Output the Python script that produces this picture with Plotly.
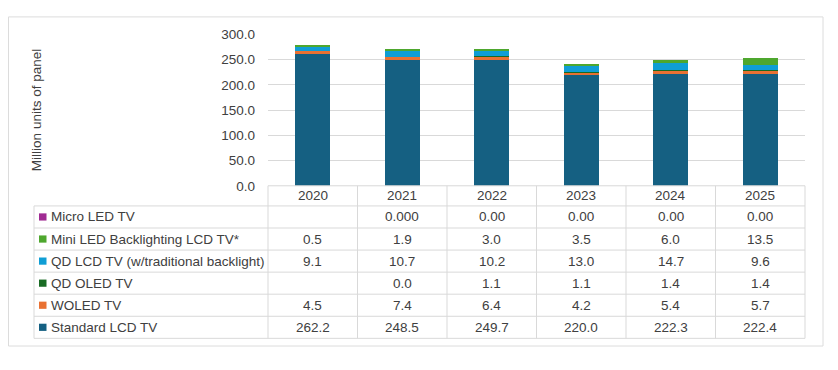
import plotly.graph_objects as go

W, H = 838, 370

years = ["2020", "2021", "2022", "2023", "2024", "2025"]

# Series (bottom of stack first)
standard_lcd = [262.2, 248.5, 249.7, 220.0, 222.3, 222.4]
woled = [4.5, 7.4, 6.4, 4.2, 5.4, 5.7]
qd_oled = [None, 0.0, 1.1, 1.1, 1.4, 1.4]
qd_lcd = [9.1, 10.7, 10.2, 13.0, 14.7, 9.6]
mini_led = [0.5, 1.9, 3.0, 3.5, 6.0, 13.5]
micro_led = [None, 0.000, 0.00, 0.00, 0.00, 0.00]

# Table text as displayed
micro_led_text = ["", "0.000", "0.00", "0.00", "0.00", "0.00"]
mini_led_text = ["0.5", "1.9", "3.0", "3.5", "6.0", "13.5"]
qd_lcd_text = ["9.1", "10.7", "10.2", "13.0", "14.7", "9.6"]
qd_oled_text = ["", "0.0", "1.1", "1.1", "1.4", "1.4"]
woled_text = ["4.5", "7.4", "6.4", "4.2", "5.4", "5.7"]
standard_lcd_text = ["262.2", "248.5", "249.7", "220.0", "222.3", "222.4"]

y_ticks = [0, 50, 100, 150, 200, 250, 300]
y_title = "Million units of panel"

series = [
    ("Standard LCD TV", standard_lcd, "#156082"),
    ("WOLED TV", woled, "#E97132"),
    ("QD OLED TV", qd_oled, "#196B24"),
    ("QD LCD TV (w/traditional backlight)", qd_lcd, "#0F9ED5"),
    ("Mini LED Backlighting LCD TV*", mini_led, "#4EA72E"),
    ("Micro LED TV", micro_led, "#A02B93"),
]

table_rows = [
    ("Micro LED TV", micro_led_text, "#A02B93"),
    ("Mini LED Backlighting LCD TV*", mini_led_text, "#4EA72E"),
    ("QD LCD TV (w/traditional backlight)", qd_lcd_text, "#0F9ED5"),
    ("QD OLED TV", qd_oled_text, "#196B24"),
    ("WOLED TV", woled_text, "#E97132"),
    ("Standard LCD TV", standard_lcd_text, "#156082"),
]

# the page body adds an 8px offset; positions below are in window pixels
OFF = 8

def px(x):
    return (x - OFF) / W

def py(y):
    return 1 - (y - OFF) / H

FONT = "Liberation Sans"
TXT = "#404040"
GRID = "#d9d9d9"

plot_l, plot_r = 268, 805
plot_t, plot_b = 28.3, 186

fig = go.Figure()
for name, vals, col in series:
    fig.add_trace(go.Bar(x=years, y=vals, name=name, marker=dict(color=col, line=dict(width=0)),
                         showlegend=False))

shapes = []
annotations = []

# outer border
shapes.append(dict(type="rect", xref="paper", yref="paper", x0=px(8.5), x1=px(823), y0=py(353), y1=py(10),
                   line=dict(color="#dcdcdc", width=1)))

# table grid
row_top = 207
row_h = 23
n_rows = len(table_rows)
table_bottom = row_top + n_rows * row_h
col_w = (plot_r - plot_l) / len(years)
shapes.append(dict(type="line", xref="paper", yref="paper", x0=px(plot_l), x1=px(plot_r), y0=py(plot_b), y1=py(plot_b),
                   line=dict(color=GRID, width=1)))
for i in range(n_rows + 1):
    yy = row_top + i * row_h
    shapes.append(dict(type="line", xref="paper", yref="paper", x0=px(34), x1=px(plot_r), y0=py(yy), y1=py(yy),
                       line=dict(color=GRID, width=1)))
shapes.append(dict(type="line", xref="paper", yref="paper", x0=px(34), x1=px(34), y0=py(row_top), y1=py(table_bottom),
                   line=dict(color=GRID, width=1)))
for j in range(len(years) + 1):
    xx = plot_l + j * col_w
    shapes.append(dict(type="line", xref="paper", yref="paper", x0=px(xx), x1=px(xx), y0=py(plot_b), y1=py(table_bottom),
                       line=dict(color=GRID, width=1)))

for k, yr in enumerate(years):
    annotations.append(dict(x=k, xref="x", y=py((plot_b + row_top) / 2), yref="paper", text=yr, showarrow=False,
                            xanchor="center", yanchor="middle", font=dict(family=FONT, size=13.5, color=TXT)))

for i, (label, texts, col) in enumerate(table_rows):
    cy = row_top + i * row_h + row_h / 2
    shapes.append(dict(type="rect", xref="paper", yref="paper", x0=px(39), x1=px(46.5), y0=py(cy + 3.75), y1=py(cy - 3.75),
                       fillcolor=col, line=dict(width=0)))
    annotations.append(dict(x=px(48.5), xref="paper", y=py(cy), yref="paper", text=label, showarrow=False,
                            xanchor="left", yanchor="middle", font=dict(family=FONT, size=13.5, color=TXT)))
    for k, t in enumerate(texts):
        if t:
            annotations.append(dict(x=k, xref="x", y=py(cy), yref="paper", text=t, showarrow=False,
                                    xanchor="center", yanchor="middle", font=dict(family=FONT, size=13.5, color=TXT)))

annotations.append(dict(x=px(36), xref="paper", y=py((plot_t + plot_b) / 2), yref="paper", text=y_title,
                        textangle=-90, showarrow=False, xanchor="center", yanchor="middle",
                        font=dict(family=FONT, size=13.5, color=TXT)))

fig.update_layout(
    width=W, height=H,
    margin=dict(l=0, r=0, t=0, b=0),
    paper_bgcolor="white", plot_bgcolor="white",
    barmode="stack", bargap=0.61,
    font=dict(family=FONT, size=13, color=TXT),
    shapes=shapes, annotations=annotations,
    xaxis=dict(type="category", domain=[px(plot_l), px(plot_r)], range=[-0.5, len(years) - 0.5],
               showticklabels=False, showgrid=False, zeroline=False, showline=False, ticks=""),
    yaxis=dict(domain=[py(plot_b), py(plot_t)], range=[0, 300], tickvals=y_ticks, tickformat=".1f",
               showgrid=True, gridcolor=GRID, gridwidth=1, zeroline=False, showline=False,
               ticklabelstandoff=12, tickfont=dict(family=FONT, size=13.5, color=TXT)),
)

fig.write_html("out.html")
